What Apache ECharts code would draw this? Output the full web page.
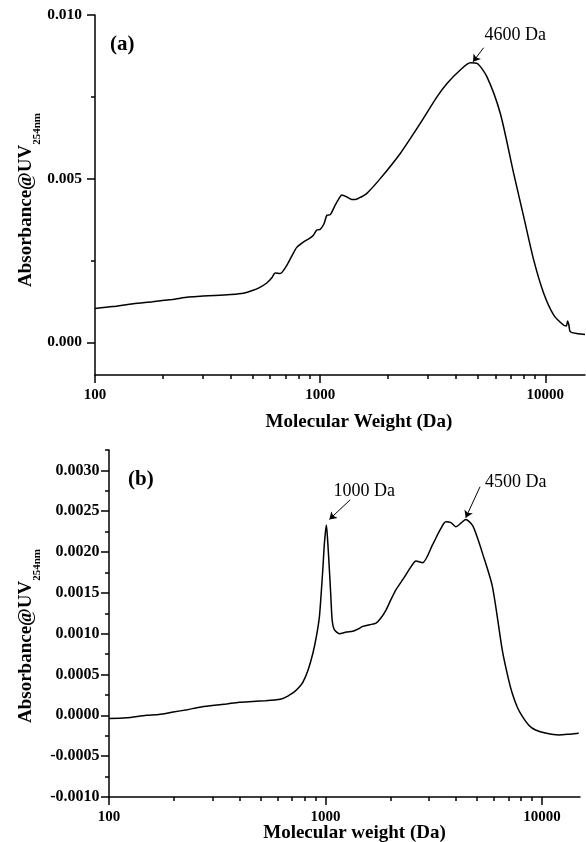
<!DOCTYPE html>
<html>
<head>
<meta charset="utf-8">
<script src="https://cdn.jsdelivr.net/npm/echarts@6/dist/echarts.min.js"></script>
<style>html,body{margin:0;padding:0;background:#fff;}#c{width:586px;height:842px;}</style>
</head>
<body>
<div id="c"></div>
<script>
// ---- Panel (a) data ----
const mwA = [100,120,148,180,220,260,293,340,400,456,500,540,579,610,631,664,711,750,787,844,900,933,966,1000,1040,1071,1109,1166,1210,1248,1314,1380,1431,1520,1612,1848,2268,2783,3301,3658,4190,4642,4971,5505,6310,7232,8017,8880,9840,10895,12065,12400,12550,12700,12913,14000,15000];
const absA = [0.00103,0.00109,0.00118,0.00124,0.00131,0.00138,0.00141,0.00143,0.00146,0.00150,0.00158,0.00168,0.00181,0.00197,0.00212,0.00210,0.00235,0.00265,0.00290,0.00307,0.00318,0.00327,0.00343,0.00345,0.00362,0.00388,0.00390,0.00419,0.00438,0.00450,0.00444,0.00436,0.00436,0.00444,0.00455,0.00500,0.00577,0.00669,0.00750,0.00791,0.00832,0.00854,0.00852,0.00811,0.00699,0.00516,0.00383,0.00251,0.00149,0.00083,0.00052,0.00050,0.00065,0.00055,0.00032,0.00026,0.00024];
// ---- Panel (b) data ----
const mwB = [100,120,149,170,198,230,262,300,349,400,462,530,593,640,683,720,759,785,830,875,910,938,955,972,990,1010,1025,1043,1058,1074,1099,1161,1250,1337,1420,1487,1600,1713,1800,1905,2009,2119,2300,2500,2618,2812,3126,3400,3597,3800,4000,4250,4448,4772,5000,5309,5904,6561,7000,7295,7700,8110,8700,9350,10500,11970,13500,14800];
const absB = [-0.00004,-0.00003,0.00000,0.00001,0.00004,0.00007,0.00010,0.00012,0.00014,0.00016,0.00017,0.00018,0.00019,0.00021,0.00025,0.00029,0.00035,0.00040,0.00055,0.00076,0.00098,0.00121,0.00148,0.00178,0.00212,0.00233,0.00212,0.00178,0.00148,0.00117,0.00105,0.00100,0.00102,0.00103,0.00106,0.00109,0.00111,0.00113,0.00119,0.00129,0.00142,0.00154,0.00168,0.00183,0.00189,0.00187,0.00209,0.00228,0.00237,0.00236,0.00231,0.00236,0.00240,0.00233,0.00220,0.00199,0.00158,0.00080,0.00045,0.00027,0.00010,-0.00001,-0.00012,-0.00018,-0.00022,-0.00024,-0.00023,-0.00022];
// ---- Tick values ----
const xMajorTicks = [100,1000,10000];
const xMinorTicks = [200,300,400,500,600,700,800,900,2000,3000,4000,5000,6000,7000,8000,9000];
const yMajorTicksA = [0,0.005,0.010];
const yMinorTicksA = [0.0025,0.0075];
const yMajorTicksB = [-0.001,-0.0005,0,0.0005,0.001,0.0015,0.002,0.0025,0.003];
const yMinorTicksB = [-0.00075,-0.00025,0.00025,0.00075,0.00125,0.00175,0.00225,0.00275,0.00325];
// ---- Annotations ----
const annA = {text:'4600 Da', textAt:[7356,0.00939], from:[5321,0.0090], to:[4775,0.00857]};
const annB1 = {text:'1000 Da', textAt:[1513,0.00275], from:[1301,0.00264], to:[1043,0.0024]};
const annB2 = {text:'4500 Da', textAt:[7570,0.00286], from:[5179,0.0028], to:[4448,0.00242]};

const FONT = '"Liberation Serif","Times New Roman",serif';
const chart = echarts.init(document.getElementById('c'), null, {renderer:'canvas'});

function xAxes(grid, nameText, nameGap, namePad, labelMargin){
  return [{
    type:'log', gridIndex:grid, position:'bottom', min:100, max:15000, logBase:10,
    name:nameText, nameLocation:'middle', nameGap:nameGap, nameMoveOverlap:false,
    nameTextStyle:{fontFamily:FONT, fontWeight:'bold', fontSize:19, color:'#000', padding:namePad},
    axisLine:{show:true, onZero:false, lineStyle:{color:'#000', width:1.5}},
    axisTick:{show:true, customValues:xMajorTicks, length:8, inside:false, lineStyle:{color:'#000', width:1.5}},
    axisLabel:{show:true, customValues:xMajorTicks, margin:labelMargin, fontFamily:FONT, fontWeight:'bold', fontSize:15, color:'#000', formatter:v=>String(Math.round(v))},
    splitLine:{show:false}, minorTick:{show:false}
  },{
    type:'log', gridIndex:grid, position:'bottom', min:100, max:15000, logBase:10,
    axisLine:{show:false, onZero:false},
    axisTick:{show:true, customValues:xMinorTicks, length:4, lineStyle:{color:'#000', width:1.5}},
    axisLabel:{show:false}, splitLine:{show:false}
  }];
}
function yAxes(grid, min, max, major, minor, dec, nameGap, namePad, labelMargin, fs){
  return [{
    type:'value', gridIndex:grid, position:'left', min:min, max:max,
    name:'{m|Absorbance@UV}{s|254nm}', nameLocation:'middle', nameGap:nameGap, nameMoveOverlap:false,
    nameTextStyle:{padding:namePad, rich:{
      m:{fontFamily:FONT, fontWeight:'bold', fontSize:19, lineHeight:22, color:'#000', verticalAlign:'top'},
      s:{fontFamily:FONT, fontWeight:'bold', fontSize:11, lineHeight:12, color:'#000', verticalAlign:'top', padding:[15,0,0,0]}
    }},
    axisLine:{show:true, onZero:false, lineStyle:{color:'#000', width:1.5}},
    axisTick:{show:true, customValues:major, length:8, lineStyle:{color:'#000', width:1.5}},
    axisLabel:{show:true, customValues:major, margin:labelMargin, fontFamily:FONT, fontWeight:'bold', fontSize:fs, color:'#000', formatter:v=>v.toFixed(dec)},
    splitLine:{show:false}
  },{
    type:'value', gridIndex:grid, position:'left', min:min, max:max,
    axisLine:{show:false, onZero:false},
    axisTick:{show:true, customValues:minor, length:4, lineStyle:{color:'#000', width:1.5}},
    axisLabel:{show:false}, splitLine:{show:false}
  }];
}
function annotate(ann){
  return {
    markLine:{silent:true, animation:false, symbol:['none','arrow'], symbolSize:7,
      label:{show:false}, lineStyle:{color:'#000', width:1, type:'solid'},
      emphasis:{disabled:true},
      data:[[{coord:ann.from},{coord:ann.to}]]}
  };
}
function textPoints(anns){
  return {silent:true, animation:false, symbol:'circle', symbolSize:0,
    label:{show:true, position:'inside', color:'#000', fontFamily:FONT, fontSize:18, formatter:p=>p.name},
    data:anns.map(a=>({name:a.text, coord:a.textAt}))};
}
const serA = {type:'line', xAxisIndex:0, yAxisIndex:0, data:mwA.map((m,i)=>[m,absA[i]]),
  showSymbol:false, smooth:0.25, lineStyle:{color:'#000', width:1.5}, itemStyle:{color:'#000'},
  animation:false, silent:true,
  markLine:annotate(annA).markLine, markPoint:textPoints([annA])};
const mlB1 = annotate(annB1).markLine, mlB2 = annotate(annB2).markLine;
mlB1.data = mlB1.data.concat(mlB2.data);
const serB = {type:'line', xAxisIndex:2, yAxisIndex:2, data:mwB.map((m,i)=>[m,absB[i]]),
  showSymbol:false, smooth:0.25, lineStyle:{color:'#000', width:1.5}, itemStyle:{color:'#000'},
  animation:false, silent:true,
  markLine:mlB1, markPoint:textPoints([annB1, annB2])};

chart.setOption({
  backgroundColor:'#fff',
  animation:false,
  grid:[
    {left:95, right:1, top:15, bottom:467, outerBoundsMode:'none', containLabel:false},
    {left:109, right:6, top:450, bottom:45, outerBoundsMode:'none', containLabel:false}
  ],
  xAxis:[].concat(xAxes(0,'Molecular Weight (Da)',38,[0,0,0,38],13), xAxes(1,'Molecular weight (Da)',27,[0,0,0,20],13)),
  yAxis:[].concat(
    yAxes(0,-0.001,0.010,yMajorTicksA,yMinorTicksA,3,56,[0,10,0,0],13,15.5),
    yAxes(1,-0.001,0.00325,yMajorTicksB,yMinorTicksB,4,70,[0,25,0,0],9.5,16)
  ),
  graphic:[
    {type:'text', left:110, top:34, style:{text:'(a)', fontFamily:FONT, fontWeight:'bold', fontSize:21, fill:'#000'}},
    {type:'text', left:128, top:469, style:{text:'(b)', fontFamily:FONT, fontWeight:'bold', fontSize:21, fill:'#000'}}
  ],
  series:[serA, serB]
});
</script>
</body>
</html>
